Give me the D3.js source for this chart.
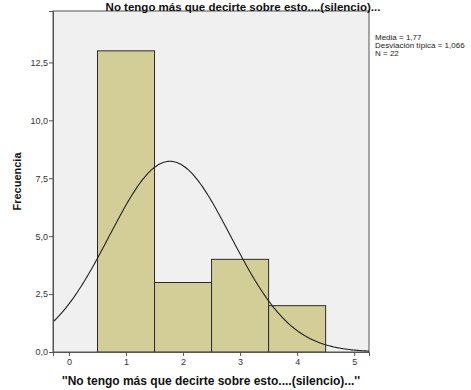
<!DOCTYPE html>
<html>
<head>
<meta charset="utf-8">
<script src="https://cdn.jsdelivr.net/npm/d3@7"></script>
<style>
  html, body { margin: 0; padding: 0; background: #ffffff; }
  svg { display: block; font-family: "Liberation Sans", Arial, sans-serif; }
</style>
</head>
<body>
<svg id="chart" width="471" height="390"></svg>
<script>
// Histogram of responses with fitted normal curve
const categories = [1, 2, 3, 4];
const frequencies = [13, 3, 4, 2];
const xTicks = [0, 1, 2, 3, 4, 5];
const yTicks = [0, 2.5, 5, 7.5, 10, 12.5];
const statsLines = ["Media = 1,77", "Desviación típica = 1,066", "N = 22"];
const mean = 1.77, sd = 1.066, n = 22, binWidth = 1;

const title = "No tengo más que decirte sobre esto....(silencio)...";
const xTitle = "''No tengo más que decirte sobre esto....(silencio)...''";
const yTitle = "Frecuencia";

const svg = d3.select("#chart");
const plot = { left: 53, right: 369, top: 11, bottom: 352 };

const x = d3.scaleLinear().domain([-0.28, 5.26]).range([plot.left, plot.right]);
const y = d3.scaleLinear().domain([0, 14.72]).range([plot.bottom, plot.top]);

const fmt = v => d3.format(".1f")(v).replace(".", ",");

// plot background
svg.append("rect")
  .attr("x", plot.left).attr("y", plot.top)
  .attr("width", plot.right - plot.left).attr("height", plot.bottom - plot.top)
  .attr("fill", "#f0f0f0").attr("stroke", "#555").attr("stroke-width", 1);

// bars
svg.append("g").selectAll("rect").data(categories).join("rect")
  .attr("x", (d) => x(d - binWidth / 2))
  .attr("y", (d, i) => y(frequencies[i]))
  .attr("width", (d) => x(d + binWidth / 2) - x(d - binWidth / 2))
  .attr("height", (d, i) => y(0) - y(frequencies[i]))
  .attr("fill", "#d3ce97")
  .attr("stroke", "#2a2a2a").attr("stroke-width", 1);

// normal curve
const density = v => n * binWidth / (sd * Math.sqrt(2 * Math.PI)) * Math.exp(-0.5 * ((v - mean) / sd) ** 2);
const xs = d3.range(x.domain()[0], x.domain()[1] + 0.001, 0.02);
const clipId = "plotClip";
svg.append("clipPath").attr("id", clipId).append("rect")
  .attr("x", plot.left).attr("y", plot.top)
  .attr("width", plot.right - plot.left).attr("height", plot.bottom - plot.top);
svg.append("path")
  .datum(xs)
  .attr("clip-path", `url(#${clipId})`)
  .attr("fill", "none").attr("stroke", "#222").attr("stroke-width", 1.1)
  .attr("d", d3.line().x(d => x(d)).y(d => y(density(d))).curve(d3.curveBasis));

// axes
const yAxis = d3.axisLeft(y).tickValues(yTicks).tickFormat(fmt).tickSize(4).tickPadding(1);
const gy = svg.append("g").attr("transform", `translate(${plot.left},0)`).call(yAxis);
const xAxis = d3.axisBottom(x).tickValues(xTicks).tickFormat(d3.format("d")).tickSize(4).tickPadding(3);
const gx = svg.append("g").attr("transform", `translate(0,${plot.bottom})`).call(xAxis);
[gx, gy].forEach(g => {
  g.select(".domain").attr("stroke", "#555");
  g.selectAll(".tick line").attr("stroke", "#555");
  g.selectAll(".tick text").attr("fill", "#333")
    .style("font-family", "'Liberation Sans', Arial, sans-serif").style("font-size", "9px");
});

// titles
svg.append("text").attr("x", 243).attr("y", 10.5)
  .attr("text-anchor", "middle").attr("font-weight", "bold").attr("font-size", "11.5px")
  .attr("fill", "#111").text(title);

svg.append("text").attr("x", (plot.left + plot.right) / 2).attr("y", 385)
  .attr("text-anchor", "middle").attr("font-weight", "bold").attr("font-size", "12px")
  .attr("fill", "#111").text(xTitle);

svg.append("text")
  .attr("transform", `translate(21,${(plot.top + plot.bottom) / 2}) rotate(-90)`)
  .attr("text-anchor", "middle").attr("font-weight", "bold").attr("font-size", "11px")
  .attr("fill", "#111").text(yTitle);

// summary statistics
svg.append("g").selectAll("text").data(statsLines).join("text")
  .attr("x", 375).attr("y", (d, i) => 40 + i * 8)
  .attr("font-size", "8px").attr("fill", "#222").text(d => d);
</script>
</body>
</html>
